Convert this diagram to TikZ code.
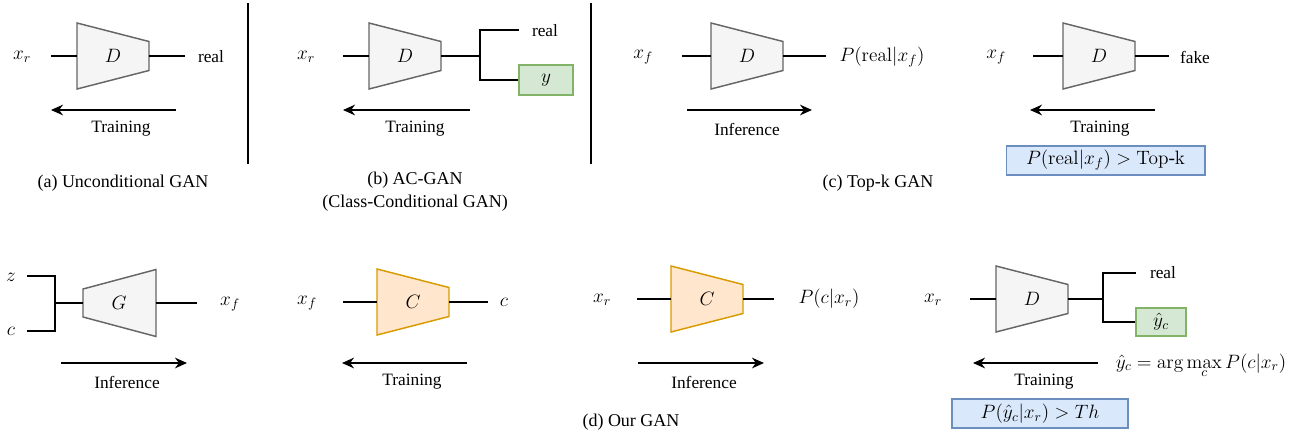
\RequirePackage{fix-cm}
\documentclass[tikz,border=0pt]{standalone}
\usepackage[no-math]{fontspec}
\setmainfont{Liberation Serif}
\usetikzlibrary{arrows.meta}
\definecolor{dfill}{HTML}{F5F5F5}
\definecolor{dline}{HTML}{666666}
\definecolor{cfill}{HTML}{FFE6CC}
\definecolor{cline}{HTML}{D79B00}
\definecolor{gfill}{HTML}{D5E8D4}
\definecolor{gline}{HTML}{82B366}
\definecolor{bfill}{HTML}{DAE8FC}
\definecolor{bline}{HTML}{6C8EBF}
\newcommand\trapz[5]{%
  \draw[#4] (#2,#3-33) -- (#2+72,#3-14.5) -- (#2+72,#3+14.5) -- (#2,#3+33) -- cycle;
  \node[mth] (#1) at (#2+36,#3) {#5};
  \coordinate (#1-w) at (#2,#3);
  \coordinate (#1-e) at (#2+72,#3);}
\newcommand\trapzR[5]{%
  \draw[#4] (#2,#3-14) -- (#2+73,#3-33.5) -- (#2+73,#3+33.5) -- (#2,#3+14) -- cycle;
  \node[mth] (#1) at (#2+36,#3) {#5};
  \coordinate (#1-w) at (#2,#3);
  \coordinate (#1-e) at (#2+73,#3);}
\tikzset{
  lbl/.style={font=\fontsize{13}{15}\selectfont, inner sep=0pt},
  mth/.style={font=\fontsize{14.5}{17}\selectfont, inner sep=0pt},
  captxt/.style={font=\fontsize{13.5}{17}\selectfont, inner sep=0pt, align=center},
  wire/.style={line width=1pt, black},
  dtrap/.style={fill=dfill, draw=dline, line width=1.1pt, line join=miter},
  ctrap/.style={fill=cfill, draw=cline, line width=1.1pt, line join=miter},
  flow/.style={line width=1.2pt, -{Stealth[length=9pt,width=8pt]}},
  gbox/.style={draw=gline, fill=gfill, line width=1pt, inner sep=0pt, font=\fontsize{14.5}{17}\selectfont},
  bbox/.style={draw=bline, fill=bfill, line width=1pt, inner sep=0pt, font=\fontsize{14.5}{17}\selectfont},
  sepline/.style={line width=1.1pt, black}
}
\begin{document}
\begin{tikzpicture}[x=0.75pt, y=-0.75pt]
\useasboundingbox (0,0) rectangle (1304,436);

% ---------- (a) ----------
\trapz{aD}{77}{56}{dtrap}{$D$}
\node[mth] (a-in) at (22,57) {$x_r$};
\node[lbl] (a-out) at (211,57) {real};
\coordinate (a-s) at (51,56);
\coordinate (a-t) at (185,56);
\draw[wire] (a-s) -- (aD-w);
\draw[wire] (aD-e) -- (a-t);
\coordinate (a-f1) at (176,110);
\coordinate (a-f2) at (51,110);
\draw[flow] (a-f1) -- (a-f2);
\node[lbl] (a-tr) at (121,129) {Training};
\coordinate (s1a) at (248,3); \coordinate (s1b) at (248,164);
\draw[sepline] (s1a) -- (s1b);
\node[captxt] (a-cap) at (123,183) {(a) Unconditional GAN};

% ---------- (b) ----------
\trapz{bD}{369}{56}{dtrap}{$D$}
\node[mth] (b-in) at (306,57) {$x_r$};
\coordinate (b-s) at (343,56);
\draw[wire] (b-s) -- (bD-w);
\coordinate (b-j) at (480,56);
\draw[wire] (bD-e) -- (b-j);
\node[lbl] (b-real) at (545,31) {real};
\coordinate (b-rt) at (519,30);
\node[gbox, minimum width=40.5pt, minimum height=22.5pt] (b-y) at (546,80) {$y$};
\draw[wire] (b-rt) -| (b-j) |- (b-y.west);
\coordinate (b-f1) at (470,110);
\coordinate (b-f2) at (343,110);
\draw[flow] (b-f1) -- (b-f2);
\node[lbl] (b-tr) at (415,129) {Training};
\coordinate (s2a) at (591,3); \coordinate (s2b) at (591,164);
\draw[sepline] (s2a) -- (s2b);
\node[captxt] (b-cap) at (415,191.5) {(b) AC-GAN\\(Class-Conditional GAN)};

% ---------- (c) left ----------
\trapz{cD}{711}{56}{dtrap}{$D$}
\node[mth] (c-in) at (643,57) {$x_f$};
\coordinate (c-s) at (682,56);
\draw[wire] (c-s) -- (cD-w);
\coordinate (c-t) at (826,56);
\draw[wire] (cD-e) -- (c-t);
\node[mth] (c-out) at (882,57) {$P(\mathrm{real}|x_f)$};
\coordinate (c-f1) at (687,110);
\coordinate (c-f2) at (812,110);
\draw[flow] (c-f1) -- (c-f2);
\node[lbl] (c-inf) at (747,129) {Inference};

% ---------- (c) right ----------
\trapz{eD}{1063}{56}{dtrap}{$D$}
\node[mth] (e-in) at (996,57) {$x_f$};
\coordinate (e-s) at (1033,56);
\draw[wire] (e-s) -- (eD-w);
\coordinate (e-t) at (1169,56);
\draw[wire] (eD-e) -- (e-t);
\node[lbl] (e-out) at (1195,57) {fake};
\coordinate (e-f1) at (1155,110);
\coordinate (e-f2) at (1030,110);
\draw[flow] (e-f1) -- (e-f2);
\node[lbl] (e-tr) at (1100,129) {Training};
\node[bbox, minimum width=149pt, minimum height=21.75pt] (e-box) at (1105.5,160.5) {$P(\mathrm{real}|x_f) > \mathrm{Top}\mbox{-}\mathrm{k}$};
\node[captxt] (c-cap) at (878,183) {(c) Top-k GAN};

% ---------- (d) G ----------
\trapzR{gG}{83}{303}{dtrap}{$G$}
\node[mth] (g-zl) at (11,277) {$z$};
\node[mth] (g-cl) at (11,331) {$c$};
\coordinate (g-z) at (27,276);
\coordinate (g-c) at (27,331);
\coordinate (g-j) at (55,303);
\draw[wire] (g-z) -| (g-j) |- (g-c);
\draw[wire] (g-j) -- (gG-w);
\coordinate (g-t) at (197,303);
\draw[wire] (gG-e) -- (g-t);
\node[mth] (g-out) at (230,304) {$x_f$};
\coordinate (g-f1) at (61,363);
\coordinate (g-f2) at (187,363);
\draw[flow] (g-f1) -- (g-f2);
\node[lbl] (g-inf) at (127,382) {Inference};

% ---------- (d) C training ----------
\trapz{hC}{377}{302}{ctrap}{$C$}
\node[mth] (h-in) at (307,303) {$x_f$};
\coordinate (h-s) at (343,302);
\draw[wire] (h-s) -- (hC-w);
\coordinate (h-t) at (488,302);
\draw[wire] (hC-e) -- (h-t);
\node[mth] (h-out) at (504,302) {$c$};
\coordinate (h-f1) at (467,363);
\coordinate (h-f2) at (342,363);
\draw[flow] (h-f1) -- (h-f2);
\node[lbl] (h-tr) at (412,382) {Training};

% ---------- (d) C inference ----------
\trapz{iC}{671}{299}{ctrap}{$C$}
\node[mth] (i-in) at (602,300) {$x_r$};
\coordinate (i-s) at (637,299);
\draw[wire] (i-s) -- (iC-w);
\coordinate (i-t) at (774,299);
\draw[wire] (iC-e) -- (i-t);
\node[mth] (i-out) at (829,299) {$P(c|x_r)$};
\coordinate (i-f1) at (638,363);
\coordinate (i-f2) at (764,363);
\draw[flow] (i-f1) -- (i-f2);
\node[lbl] (i-inf) at (704,382) {Inference};
\node[captxt] (d-cap) at (631,422) {(d) Our GAN};

% ---------- (d) D training ----------
\trapz{kD}{996}{299}{dtrap}{$D$}
\node[mth] (k-in) at (933,300) {$x_r$};
\coordinate (k-s) at (970,299);
\draw[wire] (k-s) -- (kD-w);
\coordinate (k-j) at (1103,299);
\draw[wire] (kD-e) -- (k-j);
\node[lbl] (k-real) at (1163,273) {real};
\coordinate (k-rt) at (1136,273);
\node[gbox, minimum width=37.5pt, minimum height=21pt] (k-y) at (1161,322) {$\hat{y}_c$};
\draw[wire] (k-rt) -| (k-j) |- (k-y.west);
\coordinate (k-f1) at (1098,363);
\coordinate (k-f2) at (973,363);
\draw[flow] (k-f1) -- (k-f2);
\node[lbl] (k-tr) at (1044,382) {Training};
\node[mth, anchor=base] (k-eq) at (1201,368) {$\displaystyle \hat{y}_c = \arg\max_c P(c|x_r)$};
\node[bbox, minimum width=132pt, minimum height=21.75pt] (k-box) at (1040,413.5) {$P(\hat{y}_c|x_r) > Th$};
\end{tikzpicture}
\end{document}
